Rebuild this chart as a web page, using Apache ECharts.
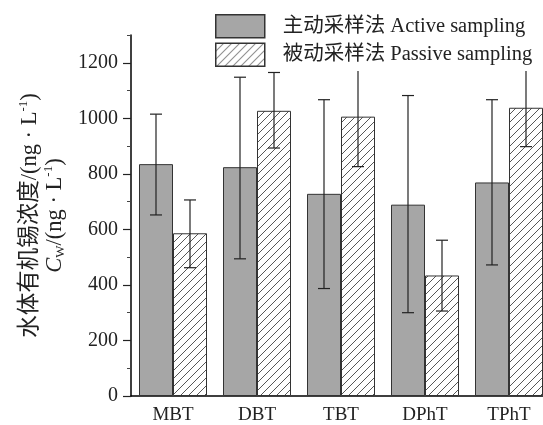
<!DOCTYPE html>
<html>
<head>
<meta charset="utf-8">
<script src="https://cdn.jsdelivr.net/npm/echarts@6/dist/echarts.min.js"></script>
<style>
html, body { margin: 0; padding: 0; background: #fff; }
#main { width: 543px; height: 425px; }
</style>
</head>
<body>
<div id="main"></div>
<script>
var categories = ['MBT', 'DBT', 'TBT', 'DPhT', 'TPhT'];
var activeMean = [835, 824, 728, 689, 769];
var activeLow = [652, 494, 387, 300, 472];
var activeHigh = [1015, 1148, 1067, 1082, 1067];
var passiveMean = [586, 1027, 1006, 434, 1038];
var passiveLow = [462, 893, 826, 306, 898];
var passiveHigh = [706, 1165, 1186, 561, 1175];
var yTicks = [0, 200, 400, 600, 800, 1000, 1200];
var yMinorTicks = [100, 300, 500, 700, 900, 1100, 1300];

var serif = "'Liberation Serif', 'Noto Sans CJK SC', serif";

// diagonal hatch for the passive bars
var hatch = document.createElement('canvas');
hatch.width = 8;
hatch.height = 8;
var ctx = hatch.getContext('2d');
ctx.fillStyle = '#fff';
ctx.fillRect(0, 0, 8, 8);
ctx.strokeStyle = '#444';
ctx.lineWidth = 0.9;
ctx.beginPath();
ctx.moveTo(0, 8); ctx.lineTo(8, 0);
ctx.moveTo(-2, 2); ctx.lineTo(2, -2);
ctx.moveTo(6, 10); ctx.lineTo(10, 6);
ctx.stroke();

function errData(low, high) {
	var out = [];
	for (var i = 0; i < low.length; i++) {
		out.push([i, low[i], high[i]]);
	}
	return out;
}

function errBar(shift) {
	return function (params, api) {
		var x = api.value(0);
		var lo = api.coord([x, api.value(1)]);
		var hi = api.coord([x, api.value(2)]);
		var cx = lo[0] + shift;
		var st = { stroke: '#222', lineWidth: 1.2 };
		return {
			type: 'group',
			children: [
				{ type: 'line', shape: { x1: cx, y1: lo[1], x2: cx, y2: hi[1] }, style: st },
				{ type: 'line', shape: { x1: cx - 6, y1: lo[1], x2: cx + 6, y2: lo[1] }, style: st },
				{ type: 'line', shape: { x1: cx - 6, y1: hi[1], x2: cx + 6, y2: hi[1] }, style: st }
			]
		};
	};
}

var myChart = echarts.init(document.getElementById('main'));

var option = {
	backgroundColor: '#fff',
	animation: false,
	grid: { left: 131, width: 420, top: 35, bottom: 29, outerBoundsMode: 'none', containLabel: false },
	legend: {
		orient: 'vertical',
		left: 213,
		top: 12,
		itemWidth: 49,
		itemHeight: 23,
		itemGap: 4,
		padding: [2, 30, 4, 2],
		backgroundColor: '#fff',
		icon: 'rect',
		itemStyle: { borderColor: '#333', borderWidth: 1.5 },
		textStyle: { fontFamily: serif, fontSize: 20.5, color: '#222', padding: [0, 0, 0, 13] },
		data: ['主动采样法 Active sampling', '被动采样法 Passive sampling']
	},
	xAxis: [{
		type: 'category',
		data: categories,
		axisLine: { lineStyle: { color: '#000', width: 1.5 } },
		axisTick: { alignWithLabel: true, length: 6, lineStyle: { color: '#222' } },
		axisLabel: { fontFamily: serif, fontSize: 19, color: '#222', margin: 10 }
	}, {
		type: 'category',
		data: categories,
		position: 'bottom',
		axisLine: { show: false },
		axisTick: { length: 4, lineStyle: { color: '#888' } },
		axisLabel: { show: false }
	}],
	yAxis: [{
		type: 'value',
		min: 0,
		max: 1300,
		interval: 200,
		nameLocation: 'middle',
		nameRotate: 90,
		nameGap: 63,
		name: '{a|水体有机锡浓度/(ng · L}{sup|-1}{a|)}\n{i|C}{sub|W}{a|/(ng · L}{sup|-1}{a|)}',
		nameTextStyle: {
			lineHeight: 25,
			rich: {
				a: { fontFamily: serif, fontSize: 22.5, color: '#222', lineHeight: 25 },
				i: { fontFamily: serif, fontSize: 22.5, fontStyle: 'italic', color: '#222', lineHeight: 25 },
				sup: { fontFamily: serif, fontSize: 13, color: '#222', verticalAlign: 'top', lineHeight: 25 },
				sub: { fontFamily: serif, fontSize: 13, color: '#222', verticalAlign: 'bottom', lineHeight: 25 }
			}
		},
		axisLine: { show: true, lineStyle: { color: '#000', width: 1.5 } },
		axisTick: { show: true, length: 8, customValues: yTicks, lineStyle: { color: '#222', width: 1.2 } },
		axisLabel: {
			fontFamily: serif, fontSize: 20, color: '#222', margin: 13, customValues: yTicks,
			formatter: function (v) { return String(v); }
		},
		splitLine: { show: false }
	}, {
		type: 'value',
		min: 0,
		max: 1300,
		interval: 200,
		position: 'left',
		axisLine: { show: false },
		axisTick: { show: true, length: 4, customValues: yMinorTicks, lineStyle: { color: '#444' } },
		axisLabel: { show: false },
		splitLine: { show: false }
	}],
	series: [{
		name: '主动采样法 Active sampling',
		type: 'bar',
		barWidth: 34,
		barGap: '0%',
		itemStyle: { color: '#a6a6a6', borderColor: '#333', borderWidth: 1 },
		data: activeMean
	}, {
		name: '被动采样法 Passive sampling',
		type: 'bar',
		barWidth: 34,
		barGap: '0%',
		itemStyle: { color: { image: hatch, repeat: 'repeat' }, borderColor: '#333', borderWidth: 1 },
		data: passiveMean
	}, {
		type: 'custom',
		renderItem: errBar(-17),
		encode: { x: 0, y: [1, 2] },
		data: errData(activeLow, activeHigh),
		z: 3
	}, {
		type: 'custom',
		renderItem: errBar(17),
		encode: { x: 0, y: [1, 2] },
		data: errData(passiveLow, passiveHigh),
		z: 3
	}]
};
myChart.setOption(option);
</script>
</body>
</html>
